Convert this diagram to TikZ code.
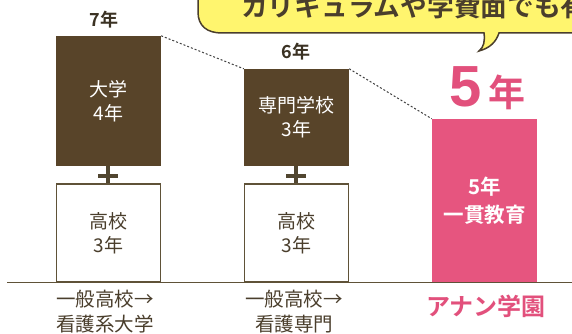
\documentclass[tikz,border=0pt]{standalone}
\usepackage{fontspec}
\setmainfont{Noto Sans CJK JP}
\newfontfamily\boldjp{Noto Sans CJK JP Bold}
\newfontfamily\digitfont{Liberation Sans Bold}
\definecolor{brownbox}{HTML}{584429}
\definecolor{pinkbox}{HTML}{E6557F}
\definecolor{pinktext}{HTML}{E2507C}
\definecolor{lineb}{HTML}{5F5238}
\definecolor{tx}{HTML}{4A3E2C}
\definecolor{callout}{HTML}{FFF56E}
\tikzset{
  x=1pt,y=-1pt,
  darkbox/.style={fill=brownbox,draw=none,minimum width=105pt,inner sep=0pt,text=white,align=center,font=\fontsize{19}{24}\selectfont},
  whitebox/.style={fill=white,draw=lineb,line width=1.2pt,minimum width=104pt,minimum height=98pt,inner sep=0pt,text=tx,align=center,font=\fontsize{19}{24}\selectfont},
  pinkblock/.style={fill=pinkbox,draw=none,minimum width=105pt,minimum height=163pt,inner sep=0pt,text=white},
  yearlabel/.style={text=tx!80!black,font=\boldjp\fontsize{18}{18}\selectfont,inner sep=0pt},
  caption/.style={text=tx,align=center,font=\fontsize{19.5}{25}\selectfont,inner sep=0pt},
  dotlink/.style={dash pattern=on 2pt off 2pt,line width=1pt,draw=black!75},
  baseline/.style={draw=lineb,line width=1.6pt},
  plus/.style={draw=lineb!85!black,line width=4pt}
}
\begin{document}
\begin{tikzpicture}
\useasboundingbox (0,0) rectangle (572,334);
\fill[white] (0,0) rectangle (572,334);
% callout
\draw[fill=callout,draw=tx,line width=1.5pt]
  (198,-12) -- (198,12) .. controls (198,26) and (207,33) .. (222,33)
  -- (484,33) .. controls (485,41) and (484,47) .. (479,51)
  .. controls (490,48) and (496,42) .. (499,33) -- (580,33) -- (580,-12) -- cycle;
\node[anchor=base west,inner sep=0pt,text=tx,font=\boldjp\fontsize{26.7}{27}\selectfont] (head) at (241,17) {カリキュラムや学費面でも有};
% boxes
\node[darkbox,minimum height=130pt] (uni) at (108.5,101) {大学\\4年};
\node[whitebox] (hs1) at (108.5,233) {高校\\3年};
\node[darkbox,minimum height=97pt] (sen) at (296.5,117.5) {専門学校\\3年};
\node[whitebox] (hs2) at (296.5,233) {高校\\3年};
\node[pinkblock] (an) at (484.5,200.5) {};
\node[text=white,font=\boldjp\fontsize{20.5}{28}\selectfont,align=center,inner sep=0pt] (antext) at (484.5,201) {5年\\一貫教育};
% plus signs
\coordinate (p1) at (108,175.5);
\coordinate (p2) at (296,175.5);
\draw[plus] (p1 |- uni.south) -- (p1 |- hs1.north);
\draw[plus] ([xshift=-10pt]p1) -- ([xshift=10pt]p1);
\draw[plus] (p2 |- sen.south) -- (p2 |- hs2.north);
\draw[plus] ([xshift=-10pt]p2) -- ([xshift=10pt]p2);
% dotted links
\draw[dotlink] (uni.north east) -- (sen.north west);
\draw[dotlink] (sen.north east) -- (an.north west);
% base line
\coordinate (bl) at (7,282.5);
\coordinate (br) at (572,282.5);
\draw[baseline] (bl) -- (br);
% labels
\node[yearlabel] (y7) at (104,20) {7年};
\node[yearlabel] (y6) at (296,52) {6年};
\node[anchor=base,inner sep=0pt,text=pinktext,font=\boldjp] (y5) at (487.5,106.5) {{\digitfont\fontsize{58}{58}\selectfont 5}\hspace{7pt}\fontsize{37}{37}\selectfont 年};
\node[caption] (c1) at (105,311.5) {一般高校→\\看護系大学};
\node[caption] (c2) at (294,311.5) {一般高校→\\看護専門};
\node[inner sep=0pt,text=pinktext,font=\boldjp\fontsize{24}{24}\selectfont] (c3) at (486,306) {アナン学園};
\end{tikzpicture}
\end{document}
